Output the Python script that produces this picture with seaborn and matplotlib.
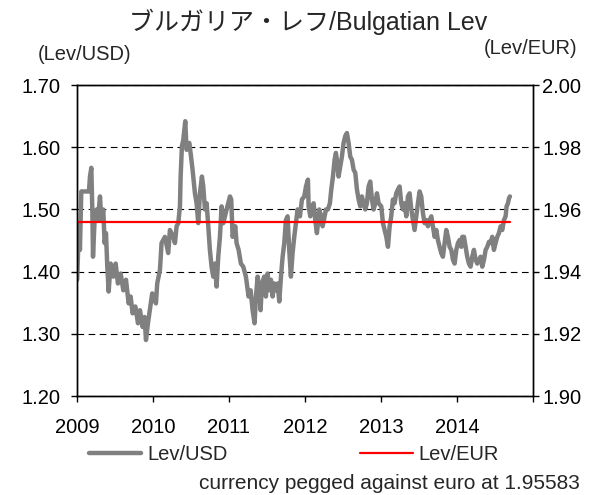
import numpy as np
import pandas as pd
import matplotlib
matplotlib.use("Agg")
import matplotlib.pyplot as plt
import seaborn as sns

# Lev/USD: decimal-year positions and values, one pair per year
t_2009 = [2009.003, 2009.026, 2009.039, 2009.057, 2009.158, 2009.171, 2009.189, 2009.202,
          2009.211, 2009.232, 2009.259, 2009.276, 2009.303, 2009.320, 2009.346, 2009.364,
          2009.382, 2009.399, 2009.417, 2009.443, 2009.478, 2009.509, 2009.539, 2009.575,
          2009.610, 2009.645, 2009.680, 2009.706, 2009.732, 2009.768, 2009.803, 2009.829,
          2009.864, 2009.890, 2009.908, 2009.934, 2009.961, 2009.990]
usd_2009 = [1.387, 1.478, 1.435, 1.529, 1.529, 1.553, 1.567, 1.500,
            1.424, 1.483, 1.500, 1.483, 1.521, 1.483, 1.500, 1.446,
            1.462, 1.408, 1.368, 1.413, 1.392, 1.413, 1.381, 1.397,
            1.370, 1.387, 1.349, 1.360, 1.333, 1.344, 1.317, 1.338,
            1.311, 1.327, 1.290, 1.317, 1.340, 1.365]

t_2010 = [2010.004, 2010.039, 2010.056, 2010.092, 2010.113, 2010.157, 2010.201, 2010.223,
          2010.267, 2010.289, 2010.311, 2010.333, 2010.355, 2010.364, 2010.381, 2010.399,
          2010.425, 2010.442, 2010.478, 2010.495, 2010.521, 2010.552, 2010.574, 2010.596,
          2010.618, 2010.644, 2010.662, 2010.684, 2010.706, 2010.728, 2010.749, 2010.771,
          2010.793, 2010.815, 2010.837, 2010.859, 2010.881, 2010.903, 2010.925, 2010.969]
usd_2010 = [1.360, 1.349, 1.381, 1.403, 1.446, 1.456, 1.430, 1.467,
            1.456, 1.446, 1.473, 1.478, 1.505, 1.553, 1.602, 1.612,
            1.642, 1.596, 1.607, 1.591, 1.564, 1.526, 1.510, 1.478,
            1.526, 1.553, 1.537, 1.500, 1.510, 1.473, 1.435, 1.408,
            1.392, 1.413, 1.376, 1.424, 1.456, 1.505, 1.478, 1.500]

t_2011 = [2011.013, 2011.030, 2011.048, 2011.083, 2011.100, 2011.127, 2011.157, 2011.188,
          2011.223, 2011.258, 2011.285, 2011.311, 2011.337, 2011.355, 2011.377, 2011.399,
          2011.416, 2011.434, 2011.464, 2011.486, 2011.508, 2011.530, 2011.552, 2011.574,
          2011.596, 2011.618, 2011.640, 2011.662, 2011.684, 2011.706, 2011.728, 2011.749,
          2011.771, 2011.793, 2011.815, 2011.837, 2011.859, 2011.881, 2011.903, 2011.934,
          2011.960, 2011.991]
usd_2011 = [1.521, 1.516, 1.456, 1.473, 1.446, 1.435, 1.413, 1.408,
            1.392, 1.360, 1.370, 1.338, 1.317, 1.360, 1.392, 1.370,
            1.338, 1.381, 1.392, 1.360, 1.397, 1.370, 1.387, 1.360,
            1.381, 1.370, 1.381, 1.352, 1.392, 1.424, 1.446, 1.483,
            1.489, 1.435, 1.392, 1.430, 1.456, 1.478, 1.500, 1.489,
            1.516, 1.521]

t_2012 = [2012.013, 2012.039, 2012.048, 2012.070, 2012.092, 2012.114, 2012.135, 2012.157,
          2012.171, 2012.188, 2012.214, 2012.232, 2012.249, 2012.276, 2012.302, 2012.328,
          2012.346, 2012.368, 2012.390, 2012.407, 2012.425, 2012.442, 2012.464, 2012.486,
          2012.508, 2012.530, 2012.552, 2012.574, 2012.596, 2012.618, 2012.640, 2012.662,
          2012.684, 2012.706, 2012.728, 2012.749, 2012.771, 2012.793, 2012.815, 2012.837,
          2012.859, 2012.881, 2012.903, 2012.925, 2012.947, 2012.969]
usd_2012 = [1.537, 1.548, 1.505, 1.489, 1.505, 1.510, 1.483, 1.462,
            1.478, 1.500, 1.489, 1.473, 1.483, 1.500, 1.500, 1.510,
            1.532, 1.553, 1.580, 1.591, 1.575, 1.553, 1.569, 1.585,
            1.607, 1.618, 1.623, 1.607, 1.585, 1.580, 1.564, 1.559,
            1.532, 1.516, 1.505, 1.521, 1.510, 1.500, 1.510, 1.537,
            1.545, 1.516, 1.500, 1.510, 1.526, 1.510]

t_2013 = [2013.004, 2013.026, 2013.048, 2013.070, 2013.092, 2013.114, 2013.135, 2013.157,
          2013.179, 2013.201, 2013.223, 2013.245, 2013.267, 2013.289, 2013.311, 2013.333,
          2013.355, 2013.377, 2013.399, 2013.421, 2013.442, 2013.464, 2013.486, 2013.508,
          2013.530, 2013.552, 2013.574, 2013.596, 2013.618, 2013.640, 2013.662, 2013.684,
          2013.706, 2013.728, 2013.749, 2013.771, 2013.793, 2013.815, 2013.837, 2013.859,
          2013.881, 2013.903, 2013.925, 2013.947, 2013.969, 2013.991]
usd_2013 = [1.505, 1.478, 1.467, 1.456, 1.440, 1.473, 1.489, 1.516,
            1.510, 1.526, 1.532, 1.537, 1.510, 1.500, 1.510, 1.489,
            1.521, 1.526, 1.500, 1.483, 1.467, 1.489, 1.510, 1.529,
            1.521, 1.494, 1.478, 1.483, 1.473, 1.483, 1.489, 1.473,
            1.456, 1.467, 1.451, 1.440, 1.430, 1.424, 1.446, 1.467,
            1.456, 1.440, 1.435, 1.419, 1.413, 1.435]

t_2014 = [2014.013, 2014.035, 2014.057, 2014.070, 2014.092, 2014.114, 2014.135, 2014.157,
          2014.179, 2014.201, 2014.223, 2014.245, 2014.267, 2014.289, 2014.311, 2014.333,
          2014.355, 2014.377, 2014.399, 2014.421, 2014.442, 2014.464, 2014.486, 2014.508,
          2014.530, 2014.552, 2014.574, 2014.596, 2014.618, 2014.640, 2014.653, 2014.671,
          2014.684, 2014.697]
usd_2014 = [1.446, 1.451, 1.440, 1.456, 1.456, 1.440, 1.424, 1.413,
            1.408, 1.424, 1.435, 1.419, 1.413, 1.419, 1.424, 1.408,
            1.419, 1.435, 1.440, 1.448, 1.446, 1.456, 1.435, 1.446,
            1.456, 1.462, 1.473, 1.467, 1.483, 1.489, 1.505, 1.510,
            1.518, 1.521]

peg_rate = 1.95583

year_ticks = [2009, 2010, 2011, 2012, 2013, 2014, 2015]
year_labels = ["2009", "2010", "2011", "2012", "2013", "2014", ""]
usd_ticks = [1.20, 1.30, 1.40, 1.50, 1.60, 1.70]
eur_ticks = [1.90, 1.92, 1.94, 1.96, 1.98, 2.00]

df = pd.DataFrame({
    "t": t_2009 + t_2010 + t_2011 + t_2012 + t_2013 + t_2014,
    "usd": usd_2009 + usd_2010 + usd_2011 + usd_2012 + usd_2013 + usd_2014,
})
df["eur"] = peg_rate

sns.set_style("ticks")
plt.rcParams['font.family'] = ['Liberation Sans', 'Noto Sans CJK JP', 'DejaVu Sans']

fig = plt.figure(figsize=(6.06, 4.95), dpi=100)
ax = fig.add_axes([0.127, 0.2, 0.7525, 0.628])

sns.lineplot(data=df, x="t", y="usd", ax=ax, color="#808080", lw=3.2, legend=False)
ax.set_xlim(2009, 2015)
ax.set_ylim(1.20, 1.70)
ax.set_xticks(year_ticks)
ax.set_xticklabels(year_labels)
ax.set_yticks(usd_ticks)
ax.set_yticklabels([f"{v:.2f}" for v in usd_ticks])
ax.set_xlabel("")
ax.set_ylabel("")
ax.grid(axis="y", color="black", lw=0.8, linestyle=(0, (6, 4)))
ax.tick_params(axis="y", direction="out", length=4.5, width=1, pad=7, labelsize=14.5, colors="black")
ax.tick_params(axis="x", direction="out", length=4.5, width=1, pad=11, labelsize=14.5, colors="black")

ax2 = ax.twinx()
sns.lineplot(data=df, x="t", y="eur", ax=ax2, color="#ff0000", lw=1.6, legend=False)
ax2.set_ylim(1.90, 2.00)
ax2.set_yticks(eur_ticks)
ax2.set_yticklabels([f"{v:.2f}" for v in eur_ticks])
ax2.set_ylabel("")
ax2.tick_params(axis="y", direction="out", length=4.5, width=1, pad=2, labelsize=14.5, colors="black")

for a in (ax, ax2):
    for s in a.spines.values():
        s.set_visible(True)
        s.set_color("black")
        s.set_linewidth(1)

fig.text(0.508, 0.955, "ブルガリア・レフ/Bulgatian Lev", ha="center", va="center", fontsize=18)
fig.text(0.140, 0.889, "(Lev/USD)", ha="center", va="center", fontsize=14.5)
fig.text(0.875, 0.903, "(Lev/EUR)", ha="center", va="center", fontsize=14.5)

handles = [ax.lines[0], ax2.lines[0]]
fig.legend(handles, ["Lev/USD", "Lev/EUR"], loc="center", bbox_to_anchor=(0.485, 0.081),
           ncol=2, frameon=False, fontsize=14.5, handlelength=2.6, handletextpad=0.3,
           columnspacing=6.6)
fig.text(0.957, 0.024, "currency pegged against euro at 1.95583", ha="right", va="center",
         fontsize=15)

fig.savefig("out.png", dpi=100)
